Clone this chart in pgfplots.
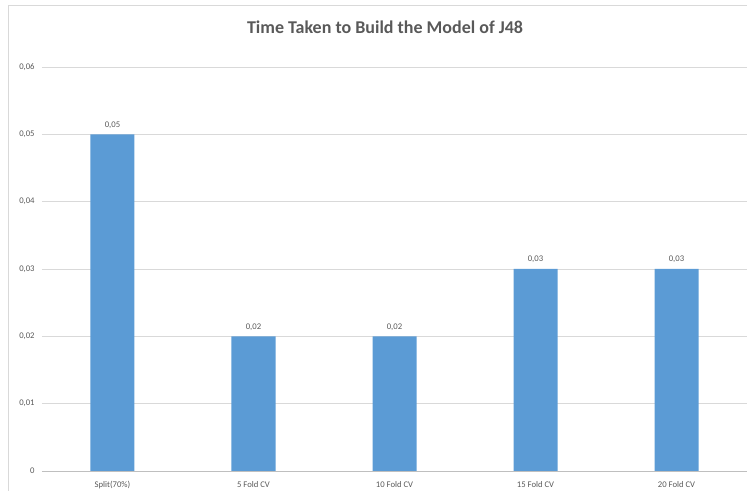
\documentclass[border=0pt]{standalone}
\usepackage{fontspec}
\setmainfont{Carlito}
\usepackage{pgfplots}
\pgfplotsset{compat=1.18}
\definecolor{barblue}{HTML}{5B9BD5}
\definecolor{txtgray}{HTML}{595959}
\definecolor{gridgray}{HTML}{D9D9D9}
\definecolor{axisgray}{HTML}{BFBFBF}
\begin{document}
\begin{tikzpicture}[x=0.75pt,y=0.75pt]
\useasboundingbox (0,0) rectangle (747,491);
% chart area frame
\draw[gridgray] (8,-5) -- (8,486) -- (760,486);
\node[txtgray, font=\fontsize{13.5}{16}\selectfont\bfseries] at (385,464) {Time Taken to Build the Model of J48};
\begin{axis}[
  at={(31.5pt,15pt)}, anchor=south west,
  scale only axis, width=528.75pt, height=303pt,
  xmin=-0.5, xmax=4.5, ymin=0, ymax=0.06,
  ytick={0,0.01,0.02,0.03,0.04,0.05,0.06},
  scaled y ticks=false,
  xtick={0,1,2,3,4},
  xticklabels={Split(70\%),5 Fold CV,10 Fold CV,15 Fold CV,20 Fold CV},
  axis lines=left,
  x axis line style={draw=axisgray,-},
  y axis line style={draw=none},
  major tick length=0pt,
  ymajorgrids, grid style={gridgray},
  tick label style={txtgray, font=\fontsize{6.5}{8}\selectfont},
  /pgf/number format/assume math mode=true,
  yticklabel style={xshift=-2pt,
    /pgf/number format/use comma, /pgf/number format/fixed, /pgf/number format/precision=2},
  xticklabel style={yshift=-4pt},
  ybar, bar width=33pt,
  nodes near coords,
  every node near coord/.append style={txtgray, font=\fontsize{6.5}{8}\selectfont, yshift=1pt,
    /pgf/number format/use comma, /pgf/number format/fixed, /pgf/number format/precision=2},
  clip=false,
]
\addplot[fill=barblue, draw=none] coordinates {(0,0.05) (1,0.02) (2,0.02) (3,0.03) (4,0.03)};
\end{axis}
\end{tikzpicture}
\end{document}
